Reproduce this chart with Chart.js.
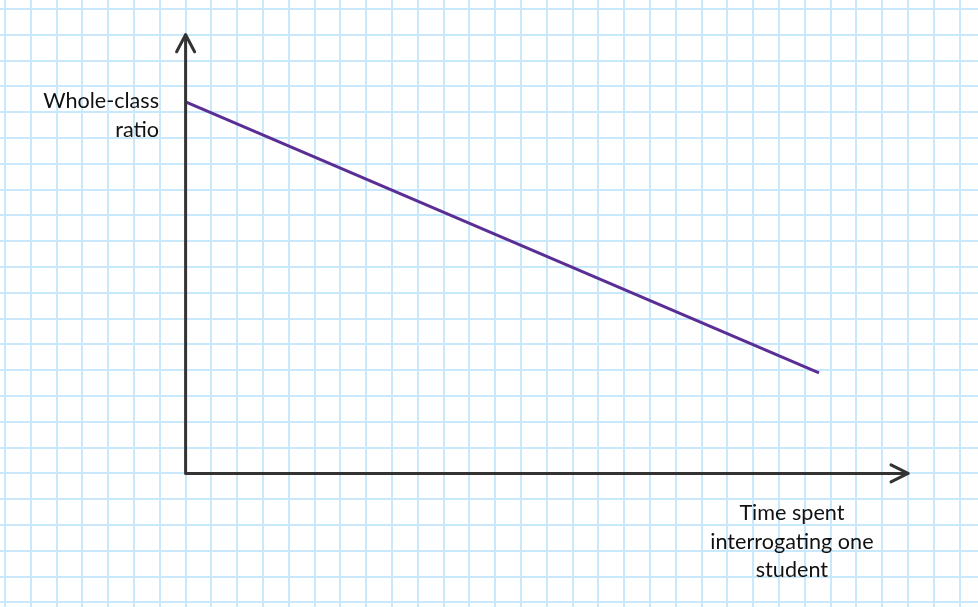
<!DOCTYPE html>
<html>
<head>
<meta charset="utf-8">
<script src="https://cdn.jsdelivr.net/npm/chart.js@4"></script>
<style>
    html, body { margin: 0; padding: 0; background: #ffffff; }
    #wrap { width: 978px; height: 607px; position: relative; }
</style>
</head>
<body>
<div id="wrap"><canvas id="chart"></canvas></div>
<script>
// line data, in grid squares measured from the origin
const timeSpent = [0, 24.55];
const wholeClassRatio = [14.4, 3.9];

// axis extents (grid squares) and their labels
const xAxisLength = 28;
const yAxisLength = 17;
const yLabelLines = ["Whole-class", "ratio"];
const xLabelLines = ["Time spent", "interrogating one", "student"];

// visible window of the graph paper (grid squares)
const xRange = [-7.194, 30.713];
const yRange = [-5.178, 18.349];

const palette = {
    grid: "#c8e8fb",
    axis: "#333333",
    line: "#5a2e94",
    text: "#111111",
};

const font = "21.6px Lato, 'Open Sans', sans-serif";

// only whole squares get a grid line
function integerTicks(scale) {
    const ticks = [];
    for (let v = Math.ceil(scale.min); v <= Math.floor(scale.max); v++) ticks.push({ value: v });
    scale.ticks = ticks;
}

const axesPlugin = {
    id: "arrowAxes",
    afterDatasetsDraw(chart) {
        const { ctx, scales: { x, y } } = chart;
        const ox = x.getPixelForValue(0);
        const oy = y.getPixelForValue(0);
        const xEnd = x.getPixelForValue(xAxisLength);
        const yEnd = y.getPixelForValue(yAxisLength);

        ctx.save();
        ctx.strokeStyle = palette.axis;
        ctx.lineWidth = 3;
        ctx.lineCap = "round";
        ctx.lineJoin = "round";

        ctx.beginPath();
        ctx.moveTo(ox, yEnd);
        ctx.lineTo(ox, oy);
        ctx.lineTo(xEnd, oy);
        ctx.stroke();

        // open arrow heads
        ctx.beginPath();
        ctx.moveTo(ox - 9, yEnd + 17);
        ctx.lineTo(ox, yEnd);
        ctx.lineTo(ox + 9, yEnd + 17);
        ctx.moveTo(xEnd - 17, oy - 8.5);
        ctx.lineTo(xEnd, oy);
        ctx.lineTo(xEnd - 17, oy + 8.5);
        ctx.stroke();

        // axis labels
        ctx.fillStyle = palette.text;
        ctx.font = font;
        ctx.textBaseline = "alphabetic";

        ctx.textAlign = "right";
        const yLabelX = x.getPixelForValue(-1.03);
        yLabelLines.forEach((t, i) => ctx.fillText(t, yLabelX, 108 + i * 29));

        ctx.textAlign = "center";
        const xLabelX = x.getPixelForValue(23.5);
        xLabelLines.forEach((t, i) => ctx.fillText(t, xLabelX, 520 + i * 28.5));
        ctx.restore();
    },
};

new Chart(document.getElementById("chart"), {
    type: "line",
    data: {
        datasets: [{
            data: timeSpent.map((t, i) => ({ x: t, y: wholeClassRatio[i] })),
            borderColor: palette.line,
            borderWidth: 3,
            pointRadius: 0,
            tension: 0,
        }],
    },
    options: {
        responsive: true,
        maintainAspectRatio: false,
        animation: false,
        events: [],
        layout: { padding: 0 },
        plugins: { legend: { display: false }, tooltip: { enabled: false } },
        scales: {
            x: {
                type: "linear",
                min: xRange[0],
                max: xRange[1],
                afterBuildTicks: integerTicks,
                grid: { color: palette.grid, lineWidth: 2, drawTicks: false },
                border: { display: false },
                ticks: { display: false },
            },
            y: {
                type: "linear",
                min: yRange[0],
                max: yRange[1],
                afterBuildTicks: integerTicks,
                grid: { color: palette.grid, lineWidth: 2, drawTicks: false },
                border: { display: false },
                ticks: { display: false },
            },
        },
    },
    plugins: [axesPlugin],
});
</script>
</body>
</html>
